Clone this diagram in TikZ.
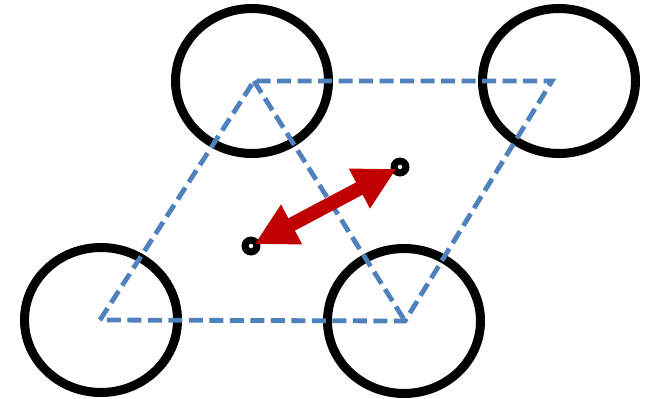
\documentclass[tikz,border=0pt]{standalone}
\usetikzlibrary{shapes.geometric,arrows.meta}
\definecolor{lineblue}{RGB}{79,129,189}
\definecolor{arrowred}{RGB}{192,0,0}
\tikzset{
  ring/.style={draw=black, line width=9pt, ellipse, minimum width=153pt, minimum height=145pt, inner sep=0pt},
  lattice/.style={draw=lineblue, line width=4.8pt, dash pattern=on 14pt off 6.5pt},
  dot/.style={circle, fill=black, minimum size=19pt, inner sep=0pt},
  hole/.style={circle, fill=white, minimum size=4.5pt, inner sep=0pt},
  motion/.style={draw=arrowred, line width=14pt, {Triangle[length=42pt,width=42pt]}-{Triangle[length=42pt,width=42pt]}}
}
\begin{document}
\begin{tikzpicture}[x=1pt,y=-1pt]
\useasboundingbox (0,0) rectangle (649,399);
% ellipses
\node[ring] (tl) at (252,81) {};
\node[ring] (tr) at (559,81) {};
\node[ring] (bl) at (101,320) {};
\node[ring] (br) at (404,321) {};
% lattice vertices
\coordinate (a) at (100,320);
\coordinate (b) at (254,81);
\coordinate (c) at (552,81);
\coordinate (d) at (405,321);
\draw[lattice] (a) -- (b) -- (c) -- (d) -- cycle;
\draw[lattice] (b) -- (d);
% dots and arrow
\node[dot] (p) at (251,246) {};
\node[dot] (q) at (400,167) {};
\draw[motion, shorten <=4pt, shorten >=4pt] (p.center) -- (q.center);
\node[hole] at (p) {};
\node[hole] at (q) {};
\end{tikzpicture}
\end{document}
